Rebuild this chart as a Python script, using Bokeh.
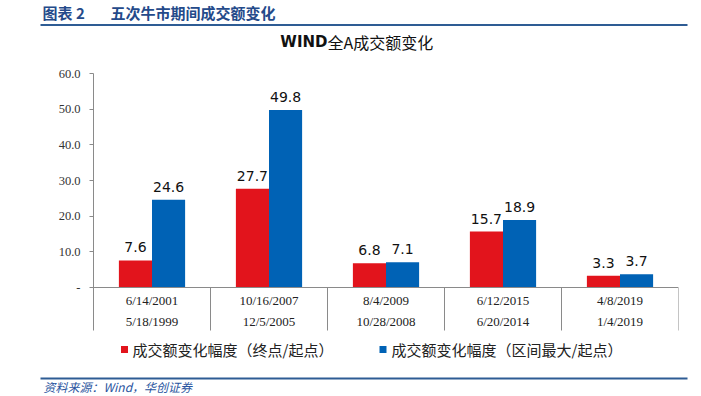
from bokeh.plotting import figure
from bokeh.layouts import column
from bokeh.models import Range1d, FixedTicker, Span, ColumnDataSource
from bokeh.core.properties import value
from bokeh.embed import file_html
from bokeh.resources import INLINE
import numpy as np

# ---- data ----
end_dates = ["6/14/2001", "10/16/2007", "8/4/2009", "6/12/2015", "4/8/2019"]
start_dates = ["5/18/1999", "12/5/2005", "10/28/2008", "6/20/2014", "1/4/2019"]
end_ratio = [7.6, 27.7, 6.8, 15.7, 3.3]      # 成交额变化幅度（终点/起点）
max_ratio = [24.6, 49.8, 7.1, 18.9, 3.7]     # 成交额变化幅度（区间最大/起点）
y_ticks = [0, 10, 20, 30, 40, 50, 60]
y_tick_labels = ["-", "10.0", "20.0", "30.0", "40.0", "50.0", "60.0"]
series_names = ["成交额变化幅度（终点/起点）", "成交额变化幅度（区间最大/起点）"]
header_tag = "图表 2"
header_title = "五次牛市期间成交额变化"
chart_title_a = "WIND"
chart_title_b = "全A成交额变化"
source_text = "资料来源：Wind，华创证券"

RED = "#E2141C"
BLUE = "#0062B5"
GRAY = "#8A8A8A"
NAVY = "#244A8A"
LINE_NAVY = "#2E5C94"
SERIF = "Liberation Serif"
CJK = "Noto Sans CJK SC"

W = 700
H_HEAD, H_MAIN, H_FOOT = 60, 310, 25   # page rows 0-60, 60-370, 370-395


def blank(h, top, bottom):
    f = figure(width=W, height=h, output_backend="svg", toolbar_location=None, tools="",
               x_axis_type=None, y_axis_type=None, min_border=0,
               x_range=Range1d(0, W), y_range=Range1d(bottom, top))
    f.outline_line_color = None
    f.grid.visible = False
    f.frame_align = False
    return f


# ---------- header ----------
head = blank(H_HEAD, 0, H_HEAD)
head.text(x=[42], y=[11.5], text=[header_tag], text_font=value(CJK), text_font_size="15px",
          text_font_style="bold", text_color=NAVY, text_baseline="middle")
head.text(x=[110], y=[11.5], text=[header_title], text_font=value(CJK), text_font_size="15px",
          text_font_style="bold", text_color=NAVY, text_baseline="middle")
head.segment(x0=[40], y0=[24.5], x1=[687], y1=[24.5], line_color=LINE_NAVY, line_width=2)
head.text(x=[327], y=[41.5], text=[chart_title_a], text_font=value("DejaVu Sans"),
          text_font_size="15px", text_font_style="bold", text_color="#111111",
          text_align="right", text_baseline="middle")
head.text(x=[327], y=[41.5], text=[chart_title_b], text_font=value(CJK),
          text_font_size="16px", text_color="#111111", text_align="left", text_baseline="middle")

# ---------- main chart ----------
FR_TOP, FR_BOT = 73, 370           # page y of frame top / bottom
PX_Y = (287 - 73) / 60.0           # pixels per unit
y_bottom = 60 - (FR_BOT - FR_TOP) / PX_Y

p = figure(width=W, height=H_MAIN, output_backend="svg", toolbar_location=None, tools="",
           x_axis_type=None, x_range=Range1d(0, 5), y_range=Range1d(y_bottom, 60),
           min_border_left=93, min_border_right=W - 678, min_border_top=FR_TOP - H_HEAD,
           min_border_bottom=0)
p.outline_line_color = None
p.grid.visible = False
p.frame_align = False


def dy(py):
    return 60 - (py - FR_TOP) / PX_Y


def dx(px):
    return (px - 93) / (585 / 5.0)


ya = p.yaxis[0]
ya.ticker = FixedTicker(ticks=y_ticks)
ya.major_label_overrides = {t: l for t, l in zip(y_ticks, y_tick_labels)}
ya.bounds = (dy(330), 60)
ya.axis_line_color = GRAY
ya.major_tick_line_color = GRAY
ya.major_tick_out = 4
ya.major_tick_in = 0
ya.minor_tick_line_color = None
ya.major_label_standoff = 9
ya.major_label_text_font = SERIF
ya.major_label_text_font_size = "12.5px"
ya.major_label_text_color = "#333333"

n = len(end_ratio)
idx = np.arange(n)
bw = 0.283
src = ColumnDataSource(dict(
    xr=idx + 0.5 - bw / 2, xb=idx + 0.5 + bw / 2,
    end=end_ratio, mx=max_ratio,
    end_lbl=["%.1f" % v for v in end_ratio], mx_lbl=["%.1f" % v for v in max_ratio],
    xc=idx + 0.5, d1=end_dates, d2=start_dates,
))
p.vbar(x="xr", top="end", bottom=0, width=bw, fill_color=RED, line_color=None, source=src)
p.vbar(x="xb", top="mx", bottom=0, width=bw, fill_color=BLUE, line_color=None, source=src)

for xcol, ycol, tcol in (("xr", "end", "end_lbl"), ("xb", "mx", "mx_lbl")):
    p.text(x=xcol, y=ycol, text=tcol, source=src, text_align="center",
           text_baseline="alphabetic", y_offset=-13,
           text_font=value("DejaVu Sans"), text_font_size="14px", text_color="#111111")

# x axis line and the date table below it
p.add_layout(Span(location=0, dimension="width", line_color=GRAY, line_width=1))
p.segment(x0=list(range(1, n + 1)), y0=[0] * n, x1=list(range(1, n + 1)), y1=[dy(330)] * n,
          line_color=GRAY, line_width=1)
p.text(x="xc", y=dy(300), text="d1", source=src, text_align="center", text_baseline="middle",
       text_font=value(SERIF), text_font_size="13px", text_color="#222222")
p.text(x="xc", y=dy(321), text="d2", source=src, text_align="center", text_baseline="middle",
       text_font=value(SERIF), text_font_size="13px", text_color="#222222")

# legend
p.scatter(x=[dx(124), dx(382.5)], y=[dy(349), dy(349)], marker="square", size=7,
          fill_color=[RED, BLUE], line_color=None)
p.text(x=[dx(132), dx(391)], y=[dy(349), dy(349)], text=series_names,
       text_font=value(CJK), text_font_size="15px", text_color="#222222", text_baseline="middle")

# ---------- footer ----------
foot = blank(H_FOOT, FR_BOT, FR_BOT + H_FOOT)
foot.segment(x0=[40], y0=[378], x1=[687], y1=[378], line_color=LINE_NAVY, line_width=2)
foot.text(x=[43], y=[394.5], text=[source_text], text_font=value(CJK), text_font_size="12px",
          text_font_style="italic", text_color="#2A55A0", text_baseline="bottom")

layout = column(head, p, foot, spacing=0)
open("out.html", "w").write(file_html(layout, INLINE))
